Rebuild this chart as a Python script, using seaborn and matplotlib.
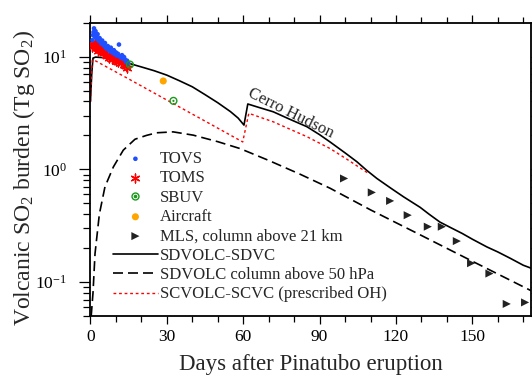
import numpy as np
import pandas as pd
import matplotlib
matplotlib.use("Agg")
import matplotlib.pyplot as plt
import seaborn as sns
from matplotlib.ticker import MultipleLocator, LogLocator
from matplotlib.legend_handler import HandlerTuple
from matplotlib.lines import Line2D

# ---------------- data ----------------
tovs_day = [0.8, 1.0, 1.2, 1.4, 1.6, 1.8, 2.0, 2.2, 2.5, 2.8, 3.0, 3.3, 3.6, 4.0, 4.3,
            4.6, 5.0, 5.3, 5.7, 6.0, 6.4, 6.8, 7.2, 7.6, 8.0, 8.4, 8.8, 9.2, 9.6, 10.0,
            10.4, 10.8, 11.2, 11.6, 12.0, 12.4, 12.8, 13.2, 13.6, 14.0, 14.4, 14.8]
tovs_val = [14.0, 15.5, 16.5, 17.8, 16.0, 15.0, 16.8, 15.2, 14.5, 15.8, 14.2, 13.8, 14.6,
            13.5, 13.0, 13.9, 12.8, 12.5, 13.2, 12.0, 11.8, 12.4, 11.5, 11.2, 12.0, 11.0,
            10.8, 11.4, 10.5, 10.9, 10.2, 10.6, 12.8, 10.0, 9.8, 10.3, 9.6, 9.9, 9.4, 9.0,
            9.2, 8.7]

toms_day = [0.5, 0.9, 1.3, 1.7, 2.1, 2.6, 3.0, 3.5, 4.0, 4.5, 5.0, 5.5, 6.0, 6.6, 7.2,
            7.8, 8.4, 9.0, 9.6, 10.2, 10.8, 11.4, 12.0, 12.6, 13.2, 13.8, 14.4]
toms_val = [12.2, 13.0, 12.5, 13.5, 12.8, 12.0, 11.3, 11.8, 12.4, 11.5, 11.0, 10.8, 10.3,
            10.1, 9.8, 10.2, 9.6, 9.5, 9.9, 9.2, 8.9, 9.4, 8.7, 9.0, 8.4, 8.2, 8.0]

sbuv_day = [15.5, 32.6]
sbuv_val = [8.5, 4.05]

aircraft_day = [28.6]
aircraft_val = [6.08]

mls_day = [99.6, 110.5, 117.7, 124.6, 132.5, 138.0, 143.9, 149.5, 156.7, 163.5, 170.7]
mls_val = [0.83, 0.624, 0.525, 0.392, 0.31, 0.31, 0.231, 0.147, 0.119, 0.064, 0.066]

sdvc_day = [0, 0.5, 1, 2, 5, 10, 14, 16, 20, 25, 30, 35, 40, 45, 50, 55, 58, 60.3, 61.8,
            66, 71.8, 78, 85, 90, 94.1, 100, 104.6, 108.5, 112.5, 118, 123, 129.5, 133,
            137.3, 142, 146, 150, 155.7, 160, 165, 170, 173]
sdvc_val = [4.0, 7.0, 9.7, 9.9, 9.8, 9.5, 9.0, 8.6, 8.1, 7.5, 6.85, 6.1, 5.4, 4.6, 3.9,
            3.25, 2.85, 2.47, 3.8, 3.55, 3.24, 2.8, 2.39, 2.03, 1.75, 1.4, 1.17, 0.98, 0.83,
            0.68, 0.57, 0.46, 0.40, 0.34, 0.30, 0.27, 0.24, 0.205, 0.185, 0.162, 0.141, 0.133]

col50_day = [0.3, 1.0, 1.8, 3.5, 5.7, 9.0, 12.9, 17.5, 22, 26, 32.5, 40.4, 50, 58.7, 70,
             82.3, 94.1, 110, 130, 150, 173]
col50_val = [0.05, 0.08, 0.179, 0.40, 0.70, 1.05, 1.48, 1.85, 2.0, 2.11, 2.15, 2.01, 1.76,
             1.53, 1.2, 0.906, 0.68, 0.437, 0.259, 0.153, 0.084]

scvc_day = [0, 0.7, 1.5, 15, 30, 45, 59.8, 62.2, 71.8, 85, 94.1, 100, 109.2]
scvc_val = [4.0, 9.3, 9.3, 6.34, 4.12, 2.68, 1.75, 3.14, 2.64, 1.95, 1.53, 1.26, 0.92]

x_ticks = [0, 30, 60, 90, 120, 150]

GREEN = "#1a9a1a"
ORANGE = "#ffa500"
BLUE = "#1f4fff"
MLSC = "#222222"

# ---------------- style ----------------
sns.set_style("ticks")
plt.rcParams["font.family"] = ["Liberation Serif", "DejaVu Serif"]
plt.rcParams["mathtext.fontset"] = "custom"
plt.rcParams["mathtext.rm"] = "Liberation Serif"
plt.rcParams["mathtext.it"] = "Liberation Serif:italic"
plt.rcParams["mathtext.bf"] = "Liberation Serif:bold"

fig = plt.figure(figsize=(5.32, 3.78), dpi=100)
ax = fig.add_axes([0.170, 0.164, 0.828, 0.776])

# lines
sns.lineplot(x=sdvc_day, y=sdvc_val, ax=ax, color="black", lw=1.2,
             label="SDVOLC-SDVC", sort=False)
sns.lineplot(x=col50_day, y=col50_val, ax=ax, color="black", lw=1.2,
             linestyle=(0, (6, 3)), label="SDVOLC column above 50 hPa", sort=False)
sns.lineplot(x=scvc_day, y=scvc_val, ax=ax, color="red", lw=1.0,
             linestyle=(0, (2, 2)), label="SCVOLC-SCVC (prescribed OH)", sort=False)

# scatter observations
sns.scatterplot(x=toms_day, y=toms_val, ax=ax, color="red", s=40, marker=(6, 2, 0),
                linewidth=1.0, label="TOMS", zorder=3)
sns.scatterplot(x=tovs_day, y=tovs_val, ax=ax, color=BLUE, s=11, marker="o",
                edgecolor="none", label="TOVS", zorder=3)
sns.scatterplot(x=sbuv_day, y=sbuv_val, ax=ax, s=24, marker="o", facecolor="none",
                edgecolor=GREEN, linewidth=1.0, zorder=4)
sns.scatterplot(x=sbuv_day, y=sbuv_val, ax=ax, s=2.5, marker="o", color=GREEN,
                edgecolor="none", zorder=4)
sns.scatterplot(x=aircraft_day, y=aircraft_val, ax=ax, s=26, marker="o", color=ORANGE,
                edgecolor="none", label="Aircraft", zorder=4)
sns.scatterplot(x=mls_day, y=mls_val, ax=ax, s=34, marker=">", color=MLSC,
                edgecolor="none", label="MLS, column above 21 km", zorder=4)

ax.set_yscale("log")
ax.set_ylim(0.05, 20)
ax.set_xlim(0, 173)
ax.xaxis.set_minor_locator(MultipleLocator(10))
ax.set_xticks(x_ticks)
ax.set_xticklabels([str(t) for t in x_ticks])
ax.yaxis.set_major_locator(LogLocator(base=10, numticks=10))
ax.yaxis.set_minor_locator(LogLocator(base=10, subs=np.arange(2, 10) * 1.0, numticks=20))

ax.tick_params(which="both", direction="out", top=True, right=True, width=0.9,
               labelsize=12.5, colors="black")
ax.tick_params(axis="x", which="major", length=5.5, pad=4)
ax.tick_params(axis="x", which="minor", length=4)
ax.tick_params(axis="y", which="major", length=8, pad=9)
ax.tick_params(axis="y", which="minor", length=5)
for sp in ax.spines.values():
    sp.set_linewidth(1.3)
    sp.set_color("black")

ax.set_xlabel("Days after Pinatubo eruption", fontsize=16.5, labelpad=6)
ax.set_ylabel("Volcanic SO$_2$ burden (Tg SO$_2$)", fontsize=17)
ax.yaxis.set_label_coords(-0.122, 0.47)

ax.text(78.5, 3.12, "Cerro Hudson", rotation=-26.5, rotation_mode="anchor",
        ha="center", va="center", fontsize=12)

# legend
h, lab = ax.get_legend_handles_labels()
d = dict(zip(lab, h))
sbuv_handle = (Line2D([], [], ls="", marker="o", ms=5, mfc="none", mec=GREEN, mew=1.0),
               Line2D([], [], ls="", marker="o", ms=1.6, mfc=GREEN, mec=GREEN))
order = ["TOVS", "TOMS", "SBUV", "Aircraft", "MLS, column above 21 km",
         "SDVOLC-SDVC", "SDVOLC column above 50 hPa", "SCVOLC-SCVC (prescribed OH)"]
handles = [sbuv_handle if name == "SBUV" else d[name] for name in order]
leg = ax.legend(handles, order, loc="upper left", bbox_to_anchor=(0.051, 0.562),
                frameon=False, fontsize=12, handlelength=2.7, handletextpad=0.1,
                labelspacing=0.2, borderpad=0, borderaxespad=0, scatterpoints=1,
                handler_map={tuple: HandlerTuple(ndivide=1)})

fig.savefig("out.png", dpi=100)
